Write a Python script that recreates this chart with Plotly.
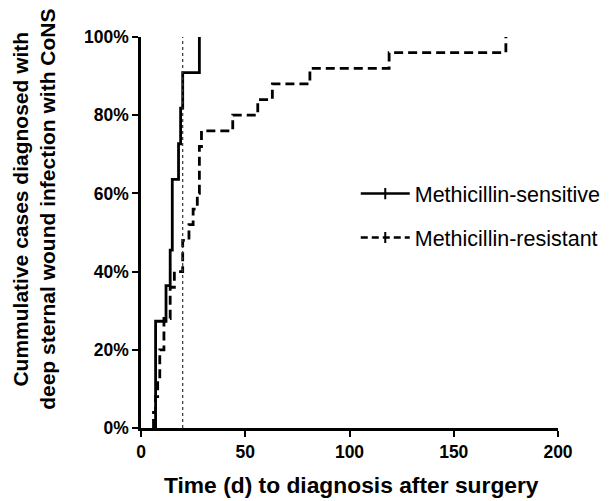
import plotly.graph_objects as go

# Data
sens_days = [7, 7, 12, 14, 15, 18, 19, 20, 28]
sens_pct = [0, 27.3, 36.4, 45.5, 63.6, 72.7, 81.8, 90.9, 100]

res_days = [6, 6, 7, 8, 9, 11, 14, 16, 20, 23, 25, 27, 28, 29, 44, 56, 63, 81, 119, 175]
res_pct = [0, 4, 8, 12, 20, 28, 36, 40, 48, 52, 56, 60, 72, 76, 80, 84, 88, 92, 96, 100]

ref_day = 20
x_ticks = [0, 50, 100, 150, 200]
y_ticks = [0, 20, 40, 60, 80, 100]
y_tick_labels = ["0%", "20%", "40%", "60%", "80%", "100%"]

FONT = "Liberation Sans, Arial, Helvetica, sans-serif"

fig = go.Figure()

fig.add_trace(go.Scatter(
    x=sens_days, y=sens_pct, mode="lines", line_shape="hv",
    line=dict(color="black", width=2.8),
    showlegend=False, cliponaxis=False,
))
fig.add_trace(go.Scatter(
    x=res_days, y=res_pct, mode="lines", line_shape="hv",
    line=dict(color="black", width=2.8, dash="9px,5px"),
    showlegend=False, cliponaxis=False,
))

# legend entries
fig.add_trace(go.Scatter(
    x=[None], y=[None], mode="lines+markers", name="Methicillin-sensitive",
    line=dict(color="black", width=2.6),
    marker=dict(symbol="line-ns", size=8, line=dict(color="black", width=2)),
    legendgroup="a",
))
fig.add_trace(go.Scatter(
    x=[None], y=[None], mode="lines+markers", name="Methicillin-resistant",
    line=dict(color="black", width=2.6, dash="7px,4px"),
    marker=dict(symbol="line-ns", size=8, line=dict(color="black", width=2)),
    legendgroup="b",
))

fig.add_shape(type="line", x0=ref_day, x1=ref_day, y0=0, y1=100,
              xref="x", yref="y",
              line=dict(color="#333", width=1.2, dash="dot"))

fig.add_annotation(
    text="Cummulative cases diagnosed with<br>deep sternal wound infection with CoNS",
    xref="paper", yref="paper", x=-0.257, y=0.56, xanchor="center", yanchor="middle",
    textangle=-90, showarrow=False,
    font=dict(size=21, family=FONT, weight="bold", color="black"),
)
fig.add_annotation(
    text="Time (d) to diagnosis after surgery",
    xref="paper", yref="paper", x=0.504, y=-0.146, xanchor="center", yanchor="middle",
    showarrow=False,
    font=dict(size=22.8, family=FONT, weight="bold", color="black"),
)

fig.update_layout(
    width=610, height=501,
    margin=dict(l=133, r=60, t=29, b=81),
    paper_bgcolor="white", plot_bgcolor="white",
    font=dict(family=FONT, color="black"),
    legend=dict(
        x=0.515, y=0.652, xanchor="left", yanchor="top",
        font=dict(size=21.5, family=FONT, color="black"),
        bgcolor="rgba(0,0,0,0)", tracegroupgap=13, itemwidth=49,
    ),
    xaxis=dict(
        range=[0, 200], tickvals=x_ticks, ticks="outside", ticklen=6,
        tickwidth=2, tickcolor="black",
        showline=True, linecolor="black", linewidth=2.5, showgrid=False,
        zeroline=False,
        tickfont=dict(size=17.5, family=FONT, weight="bold"),
    ),
    yaxis=dict(
        range=[0, 100], tickvals=y_ticks, ticktext=y_tick_labels,
        ticks="outside", ticklen=6, tickwidth=2, tickcolor="black",
        showline=True, linecolor="black", linewidth=2.5, showgrid=False,
        zeroline=False,
        tickfont=dict(size=17.5, family=FONT, weight="bold"),
    ),
)

fig.write_html("out.html")
